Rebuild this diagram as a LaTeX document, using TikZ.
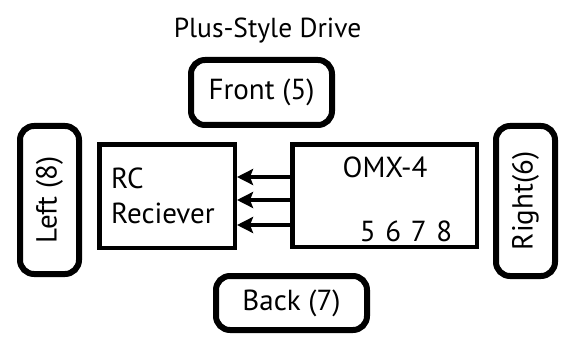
\documentclass[tikz,border=0pt]{standalone}
\usepackage{fontspec}
\setmainfont{PT Sans}
\usetikzlibrary{arrows.meta}
\begin{document}
\begin{tikzpicture}[x=1pt,y=-1pt,
  rbox/.style={draw, line width=6pt, rounded corners=14pt, inner sep=0pt, font=\fontsize{29}{34}\selectfont},
  sbox/.style={draw, line width=4.5pt, inner sep=0pt},
  arr/.style={line width=3.5pt, -{Stealth[length=16pt, width=16pt, inset=3pt]}},
  lbl/.style={font=\fontsize{29}{34}\selectfont, inner sep=0pt}]
\useasboundingbox (0,0) rectangle (563,337);
\node[lbl, font=\fontsize{27.5}{32}\selectfont] (title) at (267.5,31) {Plus-Style Drive};
\node[rbox, minimum width=141pt, minimum height=65pt] (front) at (261.5,92.5) {Front (5)};
\node[rbox, rotate=90, minimum width=148pt, minimum height=59pt] (left) at (49.5,200) {Left (8)};
\node[rbox, rotate=90, minimum width=150pt, minimum height=59pt] (right) at (525.5,201) {Right(6)};
\node[rbox, minimum width=151pt, minimum height=54pt] (back) at (291.5,303) {Back (7)};
\node[sbox, minimum width=135.5pt, minimum height=103.5pt] (rc) at (167,196) {};
\node[sbox, minimum width=184.5pt, minimum height=102.5pt] (omx) at (384.5,195.5) {};
\node[lbl, anchor=west] (rct) at (111,178) {RC};
\node[lbl, anchor=west] (rcr) at (111,213) {Reciever};
\node[lbl] (omxt) at (385,167) {OMX-4};
\node[lbl] (nums) at (406,231) {5\,\,6\,\,7\,\,8};
\foreach \yy in {177,200,225}{
  \draw[arr] (omx.west |- 0,\yy) -- (rc.east |- 0,\yy);
}
\end{tikzpicture}
\end{document}
